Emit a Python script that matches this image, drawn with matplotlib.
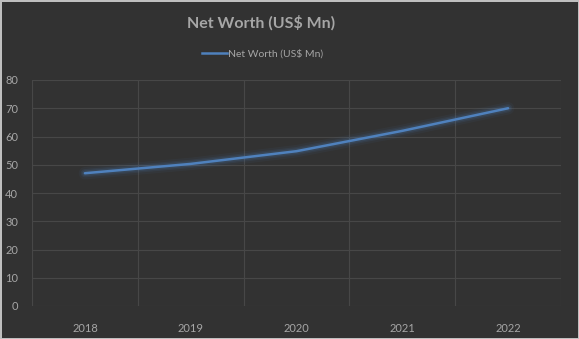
import numpy as np
from matplotlib import pyplot as plt
from matplotlib.lines import Line2D

years = ["2018", "2019", "2020", "2021", "2022"]
net_worth = [47, 50.3, 54.8, 62, 70]

bg = "#323232"
grid_c = "#474747"
text_c = "#a6a6a6"
line_c = "#4f81bd"

plt.rcParams["font.family"] = ["Lato", "DejaVu Sans"]

fig = plt.figure(figsize=(5.79, 3.39), dpi=100, facecolor=bg,
                 edgecolor="#bfbfbf", linewidth=2)
ax = fig.add_axes([32 / 579, 1 - 306 / 339, 529 / 579, 226 / 339])
ax.set_facecolor(bg)

x = np.arange(len(years))
# soft glow under the line
for lw, a in [(9, 0.06), (6, 0.1), (4, 0.15)]:
    ax.plot(x, net_worth, color=line_c, lw=lw, alpha=a, solid_capstyle="round")
ax.plot(x, net_worth, color=line_c, lw=1.8, solid_capstyle="round")

ax.set_xlim(-0.5, len(years) - 0.5)
ax.set_ylim(0, 80)
ax.set_yticks(range(0, 81, 10))
ax.set_xticks(x)
ax.set_xticklabels(years)
ax.set_xticks(np.arange(-0.5, len(years), 1), minor=True)
ax.grid(axis="y", color=grid_c, lw=0.8)
ax.grid(axis="x", which="minor", color=grid_c, lw=0.8)
ax.set_axisbelow(True)
ax.tick_params(which="both", length=0, colors=text_c, labelsize=8)
ax.tick_params(axis="x", pad=12)
ax.tick_params(axis="y", pad=10)
for s in ax.spines.values():
    s.set_visible(False)

cx = 261 / 579
fig.text(cx, 1 - 23 / 339, "Net Worth (US$ Mn)", ha="center", va="center",
         color=text_c, fontsize=11.5, fontweight="bold")
handle = Line2D([], [], color=line_c, lw=1.8)
fig.legend([handle], ["Net Worth (US$ Mn)"], loc="center",
           bbox_to_anchor=(cx + 2 / 579, 1 - 54 / 339), frameon=False,
           labelcolor=text_c, fontsize=7.5, handlelength=2.4, handletextpad=0.1)

fig.savefig("out.png", facecolor=bg, edgecolor="#bfbfbf")
